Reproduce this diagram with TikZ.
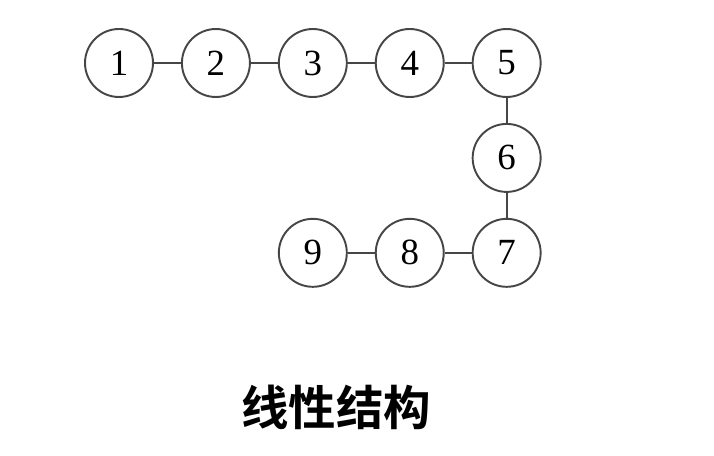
\documentclass[tikz,border=0pt]{standalone}
\usepackage{fontspec}
\setmainfont{Liberation Serif}
\newfontfamily\cjk{Noto Sans CJK SC}[BoldFont={* Bold}]
\usetikzlibrary{positioning}
\definecolor{ringgray}{RGB}{70,70,70}
\tikzset{
  ball/.style={circle,draw=ringgray,line width=1.1pt,minimum size=1.36cm,inner sep=0pt,
    font=\fontsize{21}{21}\selectfont},
  link/.style={draw=ringgray,line width=1.1pt}
}
\begin{document}
\begin{tikzpicture}[x=0.02cm,y=0.02cm]
	\useasboundingbox (0,0) rectangle (714,-456);
	\node[ball] (n1) at (119,-63) {1};
	\node[ball,right=0.54cm of n1] (n2) {2};
	\node[ball,right=0.54cm of n2] (n3) {3};
	\node[ball,right=0.54cm of n3] (n4) {4};
	\node[ball,right=0.54cm of n4] (n5) {5};
	\node[ball,below=0.5cm of n5] (n6) {6};
	\node[ball,below=0.5cm of n6] (n7) {7};
	\node[ball,left=0.54cm of n7] (n8) {8};
	\node[ball,left=0.54cm of n8] (n9) {9};
	\foreach \a/\b in {n1/n2,n2/n3,n3/n4,n4/n5,n5/n6,n6/n7,n7/n8,n8/n9}
		\draw[link] (\a) -- (\b);
	\node[font=\cjk\bfseries\fontsize{27}{27}\selectfont] (title) at (336,-407) {线性结构};
\end{tikzpicture}
\end{document}
